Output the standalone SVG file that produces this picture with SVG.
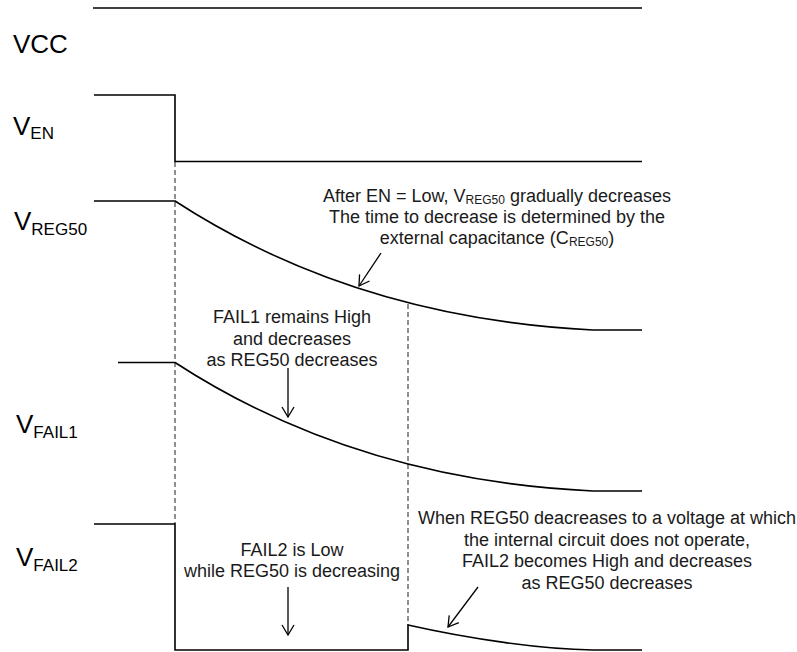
<svg xmlns="http://www.w3.org/2000/svg" width="797" height="652" viewBox="0 0 797 652">
<defs>
<style>
.wave{fill:none;stroke:#000;stroke-width:1.6}
.dash{fill:none;stroke:#555;stroke-width:1.3;stroke-dasharray:5,3}
.arr{fill:none;stroke:#000;stroke-width:1.3;marker-end:url(#ah)}
.lbl{font-family:"Liberation Sans",Arial,sans-serif;font-size:26px;fill:#000}
.sub{font-size:17px}
.note{font-family:"Liberation Sans",Arial,sans-serif;font-size:18px;fill:#1a1a1a;text-anchor:middle}
.nsub{font-size:12px}
</style>
<marker id="ah" markerWidth="14" markerHeight="14" refX="12" refY="7" orient="auto" markerUnits="userSpaceOnUse">
<path d="M2,1 L12,7 L2,13" fill="none" stroke="#000" stroke-width="1.3"/>
</marker>
</defs>
<rect width="797" height="652" fill="#fff"/>

<g id="labels">
<text class="lbl" x="13" y="53">VCC</text>
<text class="lbl" x="13" y="135">V<tspan class="sub" dy="4">EN</tspan></text>
<text class="lbl" x="14" y="230">V<tspan class="sub" dy="5">REG50</tspan></text>
<text class="lbl" x="16" y="433">V<tspan class="sub" dy="5">FAIL1</tspan></text>
<text class="lbl" x="16" y="566">V<tspan class="sub" dy="5">FAIL2</tspan></text>
</g>

<g id="connectors">
<line class="dash" x1="175" y1="162" x2="175" y2="524"/>
<line class="dash" x1="408" y1="304" x2="408" y2="625"/>
<line class="arr" x1="381" y1="253" x2="359" y2="286"/>
<line class="arr" x1="288" y1="368" x2="288" y2="417"/>
<line class="arr" x1="288" y1="587" x2="288" y2="635"/>
<line class="arr" x1="478" y1="587" x2="448" y2="627"/>
</g>

<g id="vcc"><path class="wave" d="M93,8 H642"/></g>
<g id="ven"><path class="wave" d="M94,95 H175 V161.5 H642"/></g>
<g id="vreg50"><path class="wave" d="M94,201 H175 C315,292 463,323.5 593,330 H642"/></g>
<g id="vfail1"><path class="wave" d="M118,362.5 H175 C315,453.5 463,485 593,491 H642"/></g>
<g id="vfail2"><path class="wave" d="M94,524 H175 V650 H408 V625 C470,639 540,649 593,650 H642"/></g>

<g id="note-reg50">
<text class="note" x="497" y="202">After EN = Low, V<tspan class="nsub" dy="2">REG50</tspan><tspan dy="-2"> gradually decreases</tspan></text>
<text class="note" x="497" y="223">The time to decrease is determined by the</text>
<text class="note" x="497" y="244">external capacitance (C<tspan class="nsub" dy="2">REG50</tspan><tspan dy="-2">)</tspan></text>
</g>
<g id="note-fail1">
<text class="note" x="292" y="323">FAIL1 remains High</text>
<text class="note" x="292" y="344.5">and decreases</text>
<text class="note" x="292" y="366">as REG50 decreases</text>
</g>
<g id="note-fail2">
<text class="note" x="292" y="556">FAIL2 is Low</text>
<text class="note" x="292" y="577">while REG50 is decreasing</text>
</g>
<g id="note-fail2-high">
<text class="note" x="607" y="524">When REG50 deacreases to a voltage at which</text>
<text class="note" x="607" y="545.5">the internal circuit does not operate,</text>
<text class="note" x="607" y="567">FAIL2 becomes High and decreases</text>
<text class="note" x="607" y="588.5">as REG50 decreases</text>
</g>
</svg>
